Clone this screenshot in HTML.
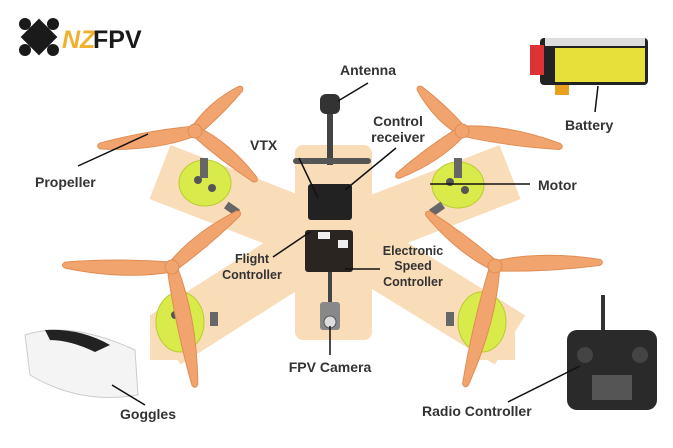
<!DOCTYPE html>
<html><head><meta charset="utf-8"><style>
body{margin:0;background:#fff}
svg{display:block}
text{font-family:"Liberation Sans",sans-serif;font-weight:bold;fill:#333;font-size:14px}
</style></head><body>
<svg width="673" height="448" viewBox="0 0 673 448">
<g stroke="#f9dcb8" stroke-width="58" stroke-linecap="butt">
<line x1="160" y1="172" x2="335" y2="240"/>
<line x1="165" y1="340" x2="335" y2="232"/>
<line x1="510" y1="172" x2="335" y2="240"/>
<line x1="510" y1="340" x2="335" y2="232"/>
</g>
<rect x="295" y="145" width="77" height="195" rx="8" fill="#f9dcb8"/>
<rect x="150" y="315" width="40" height="45" fill="#f9dcb8"/>
<rect x="475" y="310" width="40" height="50" fill="#f9dcb8"/>
<g fill="#d8eb4a" stroke="#b9cc30" stroke-width="1">
<ellipse cx="205" cy="183" rx="26" ry="23"/>
<ellipse cx="458" cy="185" rx="26" ry="23"/>
<ellipse cx="180" cy="322" rx="24" ry="30"/>
<ellipse cx="482" cy="322" rx="24" ry="30"/>
</g>
<g fill="#555">
<circle cx="198" cy="180" r="4"/><circle cx="212" cy="188" r="4"/><circle cx="450" cy="182" r="4"/><circle cx="465" cy="190" r="4"/>
<circle cx="175" cy="315" r="4"/><circle cx="186" cy="332" r="4"/><circle cx="488" cy="315" r="4"/><circle cx="478" cy="332" r="4"/>
</g>
<g fill="#666"><rect x="200" y="158" width="8" height="20"/><rect x="454" y="158" width="8" height="20"/>
<rect x="225" y="205" width="14" height="8" transform="rotate(35 232 209)"/>
<rect x="430" y="205" width="14" height="8" transform="rotate(-35 437 209)"/>
<rect x="210" y="312" width="8" height="14"/><rect x="446" y="312" width="8" height="14"/></g>
<g fill="#f2a46e" stroke="#e08d55" stroke-width="1">
<g transform="translate(195,131)">
<path transform="rotate(171)" d="M0,-5 Q43,-14 96,-3 Q101,0 96,3 Q48,8 0,5Z"/>
<path transform="rotate(-43)" d="M0,-5 Q29,-12 62,-3 Q67,0 62,3 Q31,7 0,5Z"/>
<path transform="rotate(39)" d="M0,-5 Q35,-13 77,-3 Q82,0 77,3 Q38,7 0,5Z"/>
<circle r="7"/></g>
<g transform="translate(462,131)">
<path transform="rotate(9)" d="M0,-5 Q45,-14 99,-3 Q104,0 99,3 Q50,8 0,5Z"/>
<path transform="rotate(-135)" d="M0,-5 Q27,-12 60,-3 Q65,0 60,3 Q30,7 0,5Z"/>
<path transform="rotate(145)" d="M0,-5 Q35,-13 78,-3 Q83,0 78,3 Q39,7 0,5Z"/>
<circle r="7"/></g>
<g transform="translate(172,267)">
<path transform="rotate(181)" d="M0,-5 Q48,-14 107,-3 Q112,0 107,3 Q54,8 0,5Z"/>
<path transform="rotate(-39)" d="M0,-5 Q38,-13 85,-3 Q90,0 85,3 Q42,7 0,5Z"/>
<path transform="rotate(79)" d="M0,-5 Q54,-15 120,-3 Q125,0 120,3 Q60,8 0,5Z"/>
<circle r="7"/></g>
<g transform="translate(495,266)">
<path transform="rotate(-2)" d="M0,-5 Q47,-14 105,-3 Q110,0 105,3 Q52,8 0,5Z"/>
<path transform="rotate(-142)" d="M0,-5 Q38,-13 85,-3 Q90,0 85,3 Q42,7 0,5Z"/>
<path transform="rotate(104)" d="M0,-5 Q55,-15 122,-3 Q127,0 122,3 Q61,8 0,5Z"/>
<circle r="7"/></g>
</g>
<rect x="327" y="110" width="6" height="55" fill="#444"/>
<rect x="320" y="94" width="20" height="20" rx="6" fill="#333"/>
<rect x="293" y="158" width="78" height="6" rx="3" fill="#555"/>
<rect x="308" y="184" width="44" height="36" rx="3" fill="#222"/>
<rect x="305" y="230" width="48" height="42" rx="3" fill="#2a2520"/>
<rect x="318" y="232" width="12" height="7" fill="#eee"/>
<rect x="338" y="240" width="10" height="8" fill="#eee"/>
<rect x="328" y="272" width="4" height="30" fill="#444"/>
<rect x="320" y="302" width="20" height="28" rx="3" fill="#888"/>
<circle cx="330" cy="322" r="6" fill="#ddd" stroke="#555"/>
<rect x="540" y="38" width="108" height="47" rx="4" fill="#222"/>
<rect x="555" y="48" width="90" height="34" fill="#e8e03a"/>
<rect x="545" y="38" width="100" height="8" fill="#ddd"/>
<rect x="530" y="45" width="14" height="30" fill="#d33"/>
<rect x="555" y="85" width="14" height="10" fill="#e9a020"/>
<path d="M25 335 Q70 320 135 350 L138 395 Q80 405 30 375Z" fill="#f4f4f4" stroke="#ccc"/>
<path d="M45 330 Q80 328 110 345 L95 352 Q70 340 50 340Z" fill="#222"/>
<rect x="601" y="295" width="4" height="40" fill="#333"/>
<rect x="567" y="330" width="90" height="80" rx="10" fill="#2a2a2a"/>
<rect x="592" y="375" width="40" height="25" fill="#555"/>
<circle cx="585" cy="355" r="8" fill="#444"/><circle cx="640" cy="355" r="8" fill="#444"/>
<g fill="#1a1a1a"><rect x="26" y="24" width="26" height="26" transform="rotate(45 39 37)"/>
<circle cx="25" cy="24" r="6"/><circle cx="53" cy="24" r="6"/><circle cx="25" cy="50" r="6"/><circle cx="53" cy="50" r="6"/></g>
<text x="62" y="48" style="font-size:25px;fill:#f0b030;font-style:italic">NZ</text>
<text x="93" y="48" style="font-size:25px;fill:#1a1a1a">FPV</text>
<g stroke="#111" stroke-width="1.5">
<line x1="338" y1="101" x2="368" y2="83"/>
<line x1="299" y1="158" x2="318" y2="198"/>
<line x1="396" y1="148" x2="345" y2="190"/>
<line x1="78" y1="166" x2="148" y2="134"/>
<line x1="430" y1="184" x2="530" y2="184"/>
<line x1="598" y1="86" x2="595" y2="112"/>
<line x1="273" y1="257" x2="310" y2="232"/>
<line x1="345" y1="269" x2="380" y2="269"/>
<line x1="330" y1="326" x2="330" y2="355"/>
<line x1="112" y1="385" x2="145" y2="405"/>
<line x1="580" y1="366" x2="508" y2="402"/>
</g>
<text x="340" y="75">Antenna</text>
<text x="250" y="150">VTX</text>
<text x="398" y="126" text-anchor="middle">Control</text>
<text x="398" y="142" text-anchor="middle">receiver</text>
<text x="35" y="187">Propeller</text>
<text x="538" y="190">Motor</text>
<text x="565" y="130">Battery</text>
<text x="252" y="263" text-anchor="middle" style="font-size:12.5px">Flight</text>
<text x="252" y="279" text-anchor="middle" style="font-size:12.5px">Controller</text>
<text x="413" y="255" text-anchor="middle" style="font-size:12.5px">Electronic</text>
<text x="413" y="270" text-anchor="middle" style="font-size:12.5px">Speed</text>
<text x="413" y="286" text-anchor="middle" style="font-size:12.5px">Controller</text>
<text x="330" y="372" text-anchor="middle">FPV Camera</text>
<text x="120" y="419">Goggles</text>
<text x="422" y="416">Radio Controller</text>
</svg>
</body></html>
